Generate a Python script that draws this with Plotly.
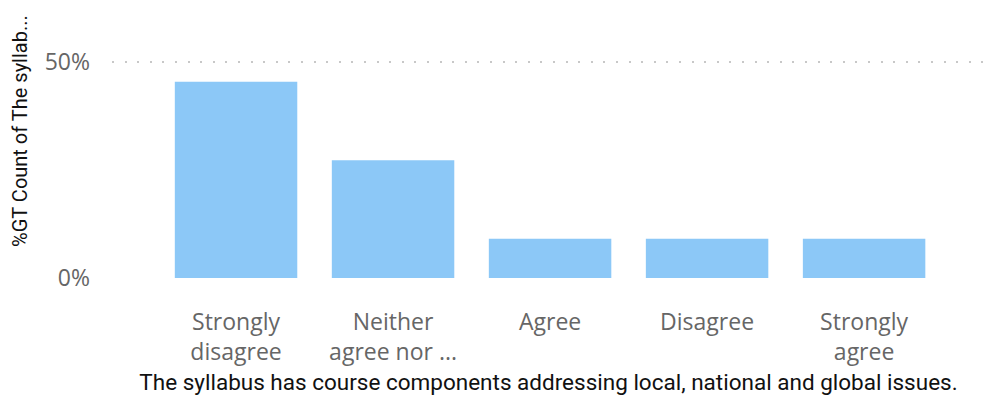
import plotly.graph_objects as go

categories = ["Strongly disagree", "Neither agree nor disagree", "Agree", "Disagree", "Strongly agree"]
tick_labels = ["Strongly<br>disagree", "Neither<br>agree nor ...", "Agree", "Disagree", "Strongly<br>agree"]
values = [45.45, 27.27, 9.09, 9.09, 9.09]
y_tick_vals = [0, 50]
y_tick_text = ["0%", "50%"]

x_title = "The syllabus has course components addressing local, national and global issues."
y_title = "%GT Count of The syllab..."

W, H = 1008, 395
m_l, m_r, m_t, m_b = 104, 31, 32, 125

fig = go.Figure(go.Bar(
    x=list(range(len(categories))),
    y=values,
    width=0.78,
    marker=dict(color="#8CC8F7", line=dict(width=0)),
    hovertext=categories,
))

fig.update_layout(
    width=W, height=H,
    margin=dict(l=m_l, r=m_r, t=m_t, b=m_b),
    paper_bgcolor="white", plot_bgcolor="white",
    showlegend=False,
    font=dict(family="Open Sans", color="#666666"),
    xaxis=dict(
        range=[-0.79, 4.77],
        tickmode="array",
        tickvals=list(range(len(categories))),
        ticktext=tick_labels,
        tickfont=dict(family="Open Sans", size=23, color="#666666"),
        showgrid=False, zeroline=False, showline=False,
        ticks="", ticklabelstandoff=28,
        title=dict(text=x_title, font=dict(family="Roboto", size=22.5, color="#111111", weight=400), standoff=8),
    ),
    yaxis=dict(
        range=[0, 55.09],
        tickmode="array",
        tickvals=y_tick_vals,
        ticktext=y_tick_text,
        tickfont=dict(family="Open Sans", size=23, color="#666666"),
        showgrid=True, gridcolor="#C8C8C8", gridwidth=1.5, griddash="2px,10.6px",
        zeroline=False, showline=False, ticks="", ticklabelstandoff=21,
    ),
    annotations=[dict(
        text=y_title, textangle=-90, xref="paper", yref="paper",
        x=0, xshift=-92, y=0.618, xanchor="center", yanchor="middle",
        showarrow=False, font=dict(family="Roboto", size=20, color="#111111", weight=400),
    )],
)

fig.write_html("out.html")
